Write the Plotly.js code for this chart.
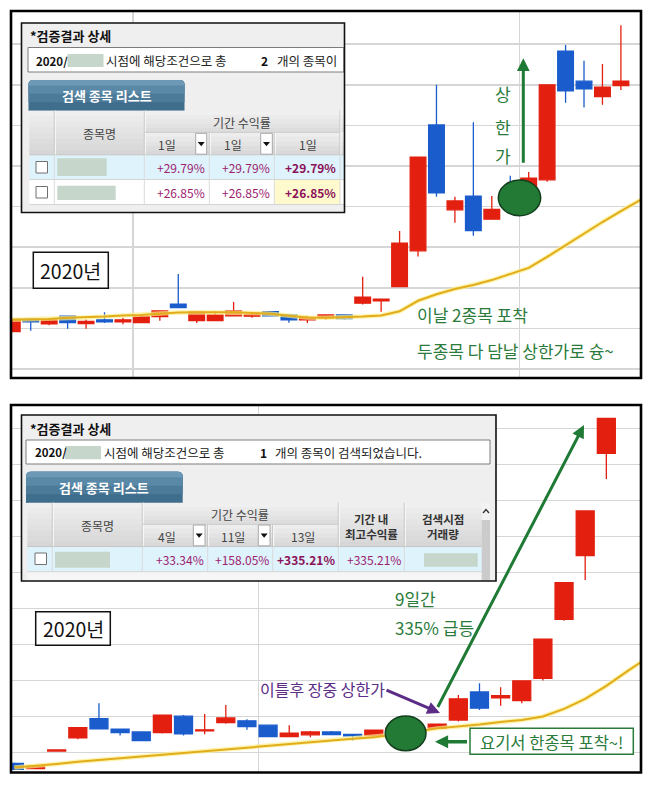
<!DOCTYPE html>
<html>
<head>
<meta charset="utf-8">
<script src="https://cdn.plot.ly/plotly-3.0.1.min.js"></script>
<style>
html,body{margin:0;padding:0;background:#ffffff;overflow:hidden;}
#chart{width:652px;height:787px;}
</style>
</head>
<body>
<div id="chart"></div>
<script>
// ===== Upper chart: daily candles (day index, prices in arbitrary won units) =====
const days1  = [0,1,2,3,4,5,6,7,8,9,10,11,12,13,14,15,16,17,18,19,20,21,22,23,24,25,26,27,28,29,30,31,32,33];
const open1  = [1092,1123,1111,1130,1112,1121,1116,1114,1129,1160,1119,1119,1131,1130,1141,1133,1121,1126,1133,1162,1168,1203,1291,1601,1392,1426,1369,1445,1420,1466,1783,1709,1671,1698];
const high1  = [1123,1124,1125,1131,1122,1140,1126,1134,1143,1234,1143,1143,1165,1138,1143,1134,1131,1135,1134,1227,1172,1340,1522,1700,1424,1608,1426,1476,1485,1700,1798,1759,1751,1847];
const low1   = [1092,1094,1108,1099,1099,1113,1110,1114,1119,1151,1113,1119,1131,1126,1130,1114,1113,1121,1122,1159,1141,1203,1277,1424,1360,1328,1369,1400,1410,1461,1656,1644,1651,1687];
const close1 = [1123,1116,1121,1114,1117,1116,1121,1128,1143,1151,1140,1133,1143,1134,1131,1121,1127,1133,1124,1177,1172,1310,1522,1434,1414,1341,1393,1412,1470,1700,1685,1690,1694,1709];
const maDays1 = [0,1,2,3,4,5,6,7,8,9,10,11,12,13,14,15,16,17,18,19,20,21,22,23,24,25,26,27,28,29,30,31,32,33,34,35];
const ma1 = [1121,1122,1123,1126,1127,1129,1132,1133,1136,1139,1140,1140,1140,1138,1136,1131,1127,1126,1127,1129,1132,1142,1168,1184,1197,1207,1219,1234,1249,1276,1305,1335,1362,1389,1414,1441];

// ===== Lower chart =====
const days2  = [0,1,2,3,4,5,6,7,8,9,10,11,12,13,14,15,16,17,18,19,20,21,22,23,24,25,26,27,28];
const open2  = [970,955,1004,1041,1094,1065,1057,1055,1101,1060,1083,1088,1076,1044,1049,1057,1050,1047,1055,1068,1067,1090,1168,1152,1144,1206,1370,1547,1831];
const high2  = [972,963,1007,1069,1137,1066,1059,1105,1104,1107,1132,1092,1077,1076,1060,1060,1051,1063,1075,1072,1080,1160,1192,1181,1199,1315,1472,1671,1928];
const low2   = [953,955,1004,1037,1066,1047,1033,1053,1047,1051,1080,1063,1043,1043,1042,1049,1033,1043,1050,1055,1066,1086,1118,1130,1137,1200,1366,1479,1760];
const close2 = [953,962,1007,1069,1066,1055,1033,1104,1052,1063,1096,1072,1044,1054,1057,1050,1046,1062,1068,1060,1079,1149,1123,1158,1199,1315,1472,1671,1928];
const maDays2 = [0,1,2,3,4,5,6,7,8,9,10,11,12,13,14,15,16,17,18,19,20,21,22,23,24,25,26,27,28,29,30];
const ma2 = [958,962,968,974,979,985,990,994,999,1003,1008,1014,1018,1024,1029,1033,1038,1042,1049,1058,1067,1072,1078,1085,1090,1100,1121,1149,1185,1226,1265];

// ===== Table texts =====
const tblTitle = '*검증결과 상세';
const tabLabel = '검색 종목 리스트';
const hdrName = '종목명';
const hdrPeriod = '기간 수익률';
const periods1 = ['1일','1일','1일'];
const rows1 = [['+29.79%','+29.79%','+29.79%'],['+26.85%','+26.85%','+26.85%']];
const count1 = '2';
const tail1 = '개의 종목이';
const periods2 = ['4일','11일','13일'];
const row2 = ['+33.34%','+158.05%','+335.21%','+335.21%'];
const hdrMax = ['기간 내','최고수익률'];
const hdrVol = ['검색시점','거래량'];
const count2 = '1';
const tail2 = '개의 종목이 검색되었습니다.';
const yearLabel = '2020년';

// ===== helpers =====
const W = 652, H = 787;
const X = p => p / W, Y = p => 1 - p / H;
const FONT = '"Noto Sans CJK KR", "Noto Sans", sans-serif';
const NARROW = '"Liberation Sans Narrow", "Noto Sans CJK KR", sans-serif';
const RED = '#e3200f', BLUE = '#1a5ccc', GOLD = '#e2ad1b', GRID = '#d6d6d6';
const GTXT = '#2b7b3a', GARROW = '#1f7a35', PURPLE = '#5b2d86', VAL = '#9c2270', VALB = '#8b1158';
const shapes = [], ann = [];
function rect(x0, y0, x1, y1, fill, line, lw) {
  shapes.push({type:'rect', xref:'paper', yref:'paper', x0:X(x0), x1:X(x1), y0:Y(y1), y1:Y(y0),
    fillcolor: fill || 'rgba(0,0,0,0)', line:{color: line || 'rgba(0,0,0,0)', width: lw || 0}, layer:'above'});
}
function line(x0, y0, x1, y1, color, w) {
  shapes.push({type:'line', xref:'paper', yref:'paper', x0:X(x0), x1:X(x1), y0:Y(y0), y1:Y(y1),
    line:{color:color, width:w || 1}, layer:'above'});
}
function path(d, fill, lineColor, lw) {
  shapes.push({type:'path', xref:'paper', yref:'paper', path:d, fillcolor: fill || 'rgba(0,0,0,0)',
    line:{color: lineColor || 'rgba(0,0,0,0)', width: lw || 0}, layer:'above'});
}
function P(x, y) { return X(x) + ',' + Y(y); }
function T(x, y, text, size, color, anchor, bold, family) {
  ann.push({xref:'paper', yref:'paper', x:X(x), y:Y(y), text: bold ? '<b>' + text + '</b>' : text,
    showarrow:false, xanchor: anchor || 'center', yanchor:'middle', borderpad:0,
    font:{family:family || FONT, size:size, color:color}});
}
function ARW(x0, y0, x1, y1, color, w, size) {
  ann.push({xref:'paper', yref:'paper', x:X(x1), y:Y(y1), ax:x0 - x1, ay:y0 - y1, text:'',
    showarrow:true, arrowhead:2, arrowsize:size, arrowwidth:w, arrowcolor:color, standoff:0, startstandoff:0});
}
function grad(x0, y0, x1, y1, c0, c1, n) {
  const a = c0.match(/\w\w/g).map(h => parseInt(h, 16)), b = c1.match(/\w\w/g).map(h => parseInt(h, 16));
  for (let i = 0; i < n; i++) {
    const t = n === 1 ? 0 : i / (n - 1);
    const c = 'rgb(' + a.map((v, k) => Math.round(v + (b[k] - v) * t)).join(',') + ')';
    rect(x0, y0 + (y1 - y0) * i / n, x1, y0 + (y1 - y0) * (i + 1) / n + 0.3, c);
  }
}
function tab(x0, y0, x1, y1, r, fill) {
  path('M' + P(x0, y1) + ' L' + P(x0, y0 + r) + ' Q' + P(x0, y0) + ' ' + P(x0 + r, y0) +
       ' L' + P(x1 - r, y0) + ' Q' + P(x1, y0) + ' ' + P(x1, y0 + r) + ' L' + P(x1, y1) + ' Z', fill);
}
function drawTab(x0, y0, x1, y1) {
  const h = y1 - y0;
  tab(x0, y0, x1, y1, 5, '#3f6d8c');
  tab(x0, y0, x1, y0 + h * 0.72, 5, '#4c7a99');
  tab(x0, y0, x1, y0 + h * 0.45, 5, '#5a88a7');
  tab(x0, y0, x1, y0 + h * 0.18, 5, '#6d99b6');
  T((x0 + x1) / 2, y0 + h / 2 + 0.5, tabLabel, 13, '#ffffff', 'center', true);
}
function dropdown(x0, y0, x1, y1) {
  rect(x0, y0, x1, y1, '#ffffff', '#a8a8a8', 1);
  const cx = (x0 + x1) / 2, cy = (y0 + y1) / 2;
  path('M' + P(cx - 3.5, cy - 1.8) + ' L' + P(cx + 3.5, cy - 1.8) + ' L' + P(cx, cy + 2.4) + ' Z', '#111111');
}
function checkbox(x0, y0) { rect(x0, y0, x0 + 11.5, y0 + 11.5, '#ffffff', '#707070', 1); }
function redact(x0, y0, x1, y1) { rect(x0, y0, x1, y1, '#c6d6ca'); }

// ===== Table 1 (upper) =====
rect(21.5, 23, 344.5, 212.5, '#efefef');
T(29, 35.5, tblTitle, 13, '#111111', 'left', true);
rect(28, 47.5, 343.8, 72, '#ffffff', '#7c7c7c', 1);
T(34.5, 60.5, '2020/', 11.5, '#111111', 'left', true);
redact(67.5, 54, 103.5, 67);
T(105, 60.5, '시점에 해당조건으로 총', 12.5, '#222222', 'left');
T(259.5, 60.5, count1, 12, '#111111', 'left', true);
T(275.5, 60.5, tail1, 12.5, '#222222', 'left');
drawTab(28.5, 80, 184.5, 110.8);
grad(29.3, 110.7, 144.3, 155, 'efefef', 'd6d6d6', 8);
grad(144.3, 110.7, 344, 132.3, 'f0f0f0', 'dddddd', 5);
grad(144.3, 132.3, 344, 155, 'ededed', 'd8d8d8', 5);
[54.3, 144.3, 340].forEach(x => { line(x, 110.7, x, 155, '#c2c2c2', 1); line(x + 1, 110.7, x + 1, 155, '#fafafa', 1); });
[209.3, 274.3].forEach(x => { line(x, 132.3, x, 155, '#c2c2c2', 1); line(x + 1, 132.3, x + 1, 155, '#fafafa', 1); });
line(144.3, 132.3, 340, 132.3, '#cacaca', 1);
line(29.3, 155, 344, 155, '#c4c4c4', 1);
T(99.3, 134, hdrName, 12, '#444444');
T(242, 122, hdrPeriod, 12, '#444444');
const sub1x = [166.7, 233.3, 308.3];
periods1.forEach((t, i) => T(sub1x[i], 144.5, t, 12, '#444444'));
dropdown(195.7, 133.3, 206.7, 154.2);
dropdown(260.7, 133.3, 272.3, 154.2);
rect(29.3, 155.5, 344, 179.5, '#def3fb');
rect(29.3, 179.5, 344, 204.5, '#ffffff');
rect(274.8, 179.5, 340, 204.5, '#fffacd');
line(29.3, 179.5, 344, 179.5, '#d4d4d4', 1);
line(29.3, 204.5, 344, 204.5, '#d4d4d4', 1);
[54.3, 144.3, 209.3, 274.3, 340].forEach(x => line(x, 155.5, x, 204.5, '#dadada', 1));
checkbox(36, 161.5); checkbox(36, 186.5);
redact(57.3, 158.3, 106.7, 176);
redact(57.3, 185.7, 115.7, 200);
const val1x = [206, 271, 337];
rows1.forEach((r, ri) => r.forEach((v, ci) => {
  T(val1x[ci], ri === 0 ? 167.5 : 192, v, 12, ci === 2 ? VALB : VAL, 'right', ci === 2);
}));
rect(21.5, 23, 344.5, 212.5, null, '#111111', 1.6);

// ===== Table 2 (lower) =====
rect(21.5, 415, 496, 581, '#efefef');
T(29, 428.5, tblTitle, 13, '#111111', 'left', true);
rect(26, 440, 490, 464, '#ffffff', '#7c7c7c', 1);
T(33.5, 452.5, '2020/', 11.5, '#111111', 'left', true);
redact(65, 446, 101, 459.3);
T(103.3, 452.5, '시점에 해당조건으로 총', 12.5, '#222222', 'left');
T(259, 452.5, count2, 12, '#111111', 'left', true);
T(273.5, 452.5, tail2, 12.5, '#222222', 'left');
drawTab(26, 471.7, 182.7, 503);
grad(27.3, 502.7, 142.3, 546.7, 'efefef', 'd6d6d6', 8);
grad(338.3, 502.7, 481.7, 546.7, 'efefef', 'd6d6d6', 8);
grad(142.3, 502.7, 338.3, 524.3, 'f0f0f0', 'dddddd', 5);
grad(142.3, 524.3, 338.3, 546.7, 'ededed', 'd8d8d8', 5);
[52.3, 142.3, 338.3, 404.3].forEach(x => { line(x, 502.7, x, 546.7, '#c2c2c2', 1); line(x + 1, 502.7, x + 1, 546.7, '#fafafa', 1); });
[207.7, 272.7].forEach(x => { line(x, 524.3, x, 546.7, '#c2c2c2', 1); line(x + 1, 524.3, x + 1, 546.7, '#fafafa', 1); });
line(142.3, 524.3, 338.3, 524.3, '#cacaca', 1);
line(27.3, 546.7, 481.7, 546.7, '#c4c4c4', 1);
T(97.3, 525.5, hdrName, 12, '#444444');
T(240.3, 514.5, hdrPeriod, 12, '#444444');
const sub2x = [166.7, 233.3, 303.3];
periods2.forEach((t, i) => T(sub2x[i], 536.5, t, 12, '#444444'));
dropdown(193.3, 525, 205, 545.8);
dropdown(258.3, 525, 270, 545.8);
T(371.3, 518.5, hdrMax[0], 11.5, '#333333', 'center', true);
T(371.3, 533.5, hdrMax[1], 11.5, '#333333', 'center', true);
T(443, 518.5, hdrVol[0], 11.5, '#333333', 'center', true);
T(443, 533.5, hdrVol[1], 11.5, '#333333', 'center', true);
rect(27.3, 547.2, 481.7, 571.7, '#def3fb');
rect(27.3, 571.7, 481.7, 580.5, '#f6f6f6');
line(27.3, 571.7, 481.7, 571.7, '#d4d4d4', 1);
[52.3, 142.3, 207.7, 272.7, 338.3, 404.3].forEach(x => line(x, 547.2, x, 571.7, '#dadada', 1));
checkbox(35, 553);
redact(55, 551.7, 110, 567.7);
redact(424, 553.3, 477.7, 566.7);
const val2x = [204.8, 269.8, 335.5, 401.5];
row2.forEach((v, ci) => T(val2x[ci], 559.5, v, 12, ci === 2 ? VALB : VAL, 'right', ci === 2));
rect(481.7, 502.7, 490, 520, '#f2f2f2');
rect(481.7, 520, 490, 580.5, '#cbcbcb');
path('M' + P(483, 513) + ' L' + P(486, 509.5) + ' L' + P(489, 513), null, '#333333', 1.3);
rect(21.5, 415, 496, 581, null, '#111111', 1.6);

// ===== year boxes =====
rect(33.3, 252.3, 108.3, 288.3, '#ffffff', '#111111', 1.5);
T(70.8, 270.5, yearLabel, 19.5, '#111111', 'center', false, NARROW);
rect(35.7, 611.7, 110.3, 645.3, '#ffffff', '#111111', 1.5);
T(73, 628.5, yearLabel, 19.5, '#111111', 'center', false, NARROW);

// ===== upper annotations =====
shapes.push({type:'circle', xref:'paper', yref:'paper', x0:X(498.3), x1:X(540.7), y0:Y(215.7), y1:Y(180),
  fillcolor:'#227a34', line:{color:'#123f1d', width:1.5}, layer:'above'});
T(503.3, 93.3, '상', 17, GTXT);
T(503.3, 126.7, '한', 17, GTXT);
T(503.3, 155, '가', 17, GTXT);
ARW(523.3, 164.3, 523.3, 58.3, GARROW, 3, 0.85);
T(416, 315, '이날 2종목 포착', 17, GTXT, 'left');
T(416, 350, '두종목 다 담날 상한가로 슝~', 17, GTXT, 'left');

// ===== lower annotations =====
shapes.push({type:'circle', xref:'paper', yref:'paper', x0:X(385.3), x1:X(426), y0:Y(750.7), y1:Y(716),
  fillcolor:'#227a34', line:{color:'#123f1d', width:1.5}, layer:'above'});
ARW(437, 708.5, 584, 425, GARROW, 3, 0.85);
T(393.5, 598.5, '9일간', 17, GTXT, 'left');
T(393.5, 627, '335% 급등', 17, GTXT, 'left');
T(259, 689, '이틀후 장중 상한가', 16, PURPLE, 'left');
ARW(385, 689.5, 440, 713, PURPLE, 3, 0.85);
rect(470, 728.3, 633.3, 754.3, '#ffffff', '#2b7b3a', 1.5);
T(551.7, 741.5, '요기서 한종목 포착~!', 16.5, GTXT);
ARW(468.5, 741.7, 435, 741.7, GARROW, 3.5, 0.75);

// ===== panel borders =====
rect(11, 11, 641, 378, null, '#000000', 2.6);
rect(11, 405, 641, 772.5, null, '#000000', 2.6);

// ===== traces =====
const candleStyle = {
  increasing:{line:{color:RED, width:1.3}, fillcolor:RED},
  decreasing:{line:{color:BLUE, width:1.3}, fillcolor:BLUE},
  whiskerwidth:0, hoverinfo:'skip', showlegend:false
};
const traces = [
  Object.assign({type:'candlestick', x:days1, open:open1, high:high1, low:low1, close:close1, xaxis:'x', yaxis:'y'}, candleStyle),
  {type:'scatter', mode:'lines', x:maDays1, y:ma1, xaxis:'x', yaxis:'y', line:{color:'rgba(252,238,140,0.7)', width:4.5}, hoverinfo:'skip', showlegend:false},
  {type:'scatter', mode:'lines', x:maDays1, y:ma1, xaxis:'x', yaxis:'y', line:{color:GOLD, width:2}, hoverinfo:'skip', showlegend:false},
  Object.assign({type:'candlestick', x:days2, open:open2, high:high2, low:low2, close:close2, xaxis:'x2', yaxis:'y2'}, candleStyle),
  {type:'scatter', mode:'lines', x:maDays2, y:ma2, xaxis:'x2', yaxis:'y2', line:{color:'rgba(252,238,140,0.7)', width:4.5}, hoverinfo:'skip', showlegend:false},
  {type:'scatter', mode:'lines', x:maDays2, y:ma2, xaxis:'x2', yaxis:'y2', line:{color:GOLD, width:2}, hoverinfo:'skip', showlegend:false}
];

const axCommon = {showticklabels:false, ticks:'', showgrid:true, gridcolor:GRID, gridwidth:1.5, zeroline:false, showline:false, fixedrange:true};
const layout = {
  width:W, height:H, margin:{l:0, r:0, t:0, b:0},
  paper_bgcolor:'#ffffff', plot_bgcolor:'#ffffff', showlegend:false, boxgap:0.15, boxgroupgap:0,
  xaxis: Object.assign({}, axCommon, {domain:[X(11), X(641)], range:[-0.07, 34.09], tickmode:'array', tickvals:[6.545, 27.49], anchor:'y', rangeslider:{visible:false}}),
  yaxis: Object.assign({}, axCommon, {domain:[Y(378), Y(11)], range:[977.8, 1881.8], tick0:1000, dtick:100, anchor:'x'}),
  xaxis2: Object.assign({}, axCommon, {domain:[X(11), X(641)], range:[-0.161, 29.64], tickmode:'array', tickvals:[11.54], anchor:'y2', rangeslider:{visible:false}}),
  yaxis2: Object.assign({}, axCommon, {domain:[Y(772.5), Y(405)], range:[944.4, 1965.3], tick0:1000, dtick:100, anchor:'x2'}),
  shapes: shapes, annotations: ann
};
Plotly.newPlot('chart', traces, layout, {displayModeBar:false, staticPlot:true});
</script>
</body>
</html>
